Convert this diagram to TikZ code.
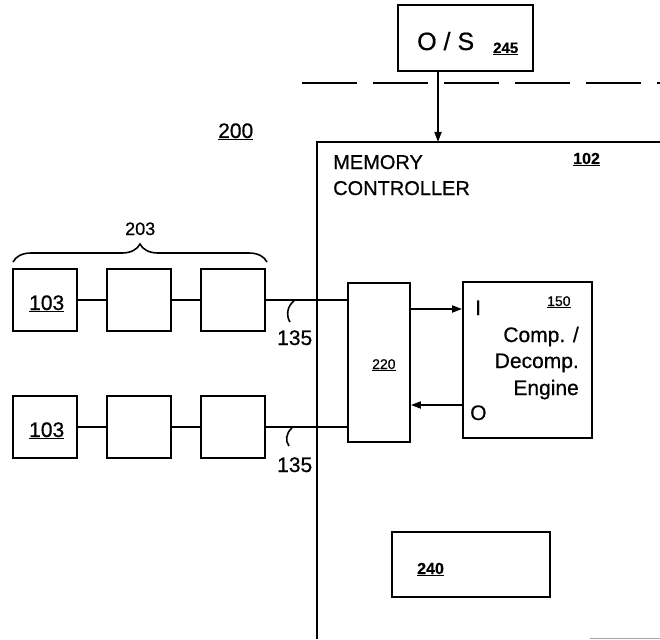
\documentclass[tikz,border=0pt]{standalone}
\usepackage{fontspec}
\setmainfont{Liberation Sans}[FakeBold=0.6]
\usetikzlibrary{arrows.meta,decorations.pathreplacing}
\tikzset{
  box/.style={draw, line width=1.8pt, inner sep=0pt},
  conn/.style={line width=1.8pt},
  arr/.style={line width=1.8pt, -{Triangle[length=10pt,width=7pt]}},
  lbl/.style={inner sep=0pt, anchor=base west},
  lblr/.style={inner sep=0pt, anchor=base east},
}
\newcommand{\fz}[1]{\fontsize{#1}{#1}\selectfont}
\begin{document}
\begin{tikzpicture}[x=1pt,y=-1pt]
\useasboundingbox (0,0) rectangle (660,639);
% O/S
\node[box, minimum width=135pt, minimum height=66pt] (os) at (465.5,38) {};
\node[lbl, font=\fz{25}] (ostxt) at (417,50) {O / S};
\node[lbl, font=\fz{15}\bfseries] (n245) at (493,53) {\underline{245}};
% dashed boundary
\coordinate (dl) at (302,83);
\coordinate (dr) at (660,83);
\draw[line width=1.8pt, dash pattern=on 55pt off 16pt] (dl) -- (dr);
% memory controller
\coordinate (mcbl) at (317,639);
\coordinate (mctl) at (317,142);
\coordinate (mctr) at (660,142);
\draw[conn] (mcbl) -- (mctl) -- (mctr);
\draw[arr] ([xshift=-27.5pt]os.south) -- ([xshift=-27.5pt]os.south |- mctl);
\node[lbl, font=\fz{20}] (mem) at (333,169) {MEMORY};
\node[lbl, font=\fz{20}] (ctl) at (333,195) {CONTROLLER};
\node[lbl, font=\fz{16}\bfseries] (n102) at (573,164) {\underline{102}};
% 200
\node[lbl, font=\fz{21}] (n200) at (218,138) {\underline{200}};
% modules
\node[box, minimum width=64pt, minimum height=62pt] (b1t) at (45,300) {};
\node[box, minimum width=64pt, minimum height=62pt] (b2t) at (139,300) {};
\node[box, minimum width=64pt, minimum height=62pt] (b3t) at (233,300) {};
\node[box, minimum width=64pt, minimum height=62pt] (b1b) at (45,427) {};
\node[box, minimum width=64pt, minimum height=62pt] (b2b) at (139,427) {};
\node[box, minimum width=64pt, minimum height=62pt] (b3b) at (233,427) {};
\node[lbl, font=\fz{21}] (t103a) at (29,310) {\underline{103}};
\node[lbl, font=\fz{21}] (t103b) at (29,437) {\underline{103}};
% brace
\draw[line width=1.6pt, decorate, decoration={brace, amplitude=18pt}] (13,262) -- (267,262);
\node[lbl, font=\fz{18}] (n203) at (125,235) {203};
% 220, 150, 240
\node[box, minimum width=62pt, minimum height=159pt] (b220) at (379,362.5) {};
\node[lbl, font=\fz{14}] (t220) at (372,369) {\underline{220}};
\node[box, minimum width=129pt, minimum height=156pt] (b150) at (527.5,360) {};
\node[lbl, font=\fz{14}] (t150) at (547,306) {\underline{150}};
\node[lblr, font=\fz{21}] (tcomp) at (579,342) {Comp. /};
\node[lblr, font=\fz{21}] (tdec) at (579,368) {Decomp.};
\node[lblr, font=\fz{21}] (teng) at (579,395) {Engine};
\node[lbl, font=\fz{21}] (tI) at (475,315) {I};
\node[lbl, font=\fz{21}] (tO) at (470,420) {O};
\node[box, minimum width=158pt, minimum height=65pt] (b240) at (471,564.5) {};
\node[lbl, font=\fz{16}\bfseries] (t240) at (417,574) {\underline{240}};
% connectors
\draw[conn] (b1t.east) -- (b2t.west);
\draw[conn] (b2t.east) -- (b3t.west);
\draw[conn] (b3t.east) -- (b3t.east -| b220.west);
\draw[conn] (b1b.east) -- (b2b.west);
\draw[conn] (b2b.east) -- (b3b.west);
\draw[conn] (b3b.east) -- (b3b.east -| b220.west);
\draw[arr] ([yshift=53.5pt]b220.east) -- ([yshift=53.5pt]b220.east -| b150.west);
\draw[arr] ([yshift=-42.5pt]b220.east -| b150.west) -- ([yshift=-42.5pt]b220.east);
% 135 labels
\draw[line width=1.6pt] (294,301) .. controls (287,306) and (286,316) .. (290,322);
\node[lbl, font=\fz{21}] (t135a) at (277,345) {135};
\draw[line width=1.6pt] (292,428) .. controls (286,433) and (285,441) .. (289,446);
\node[lbl, font=\fz{21}] (t135b) at (277,472) {135};
% faint scan line
\coordinate (gl) at (590,638);
\coordinate (gr) at (660,638);
\draw[gray!70, line width=1pt] (gl) -- (gr);
\end{tikzpicture}
\end{document}
